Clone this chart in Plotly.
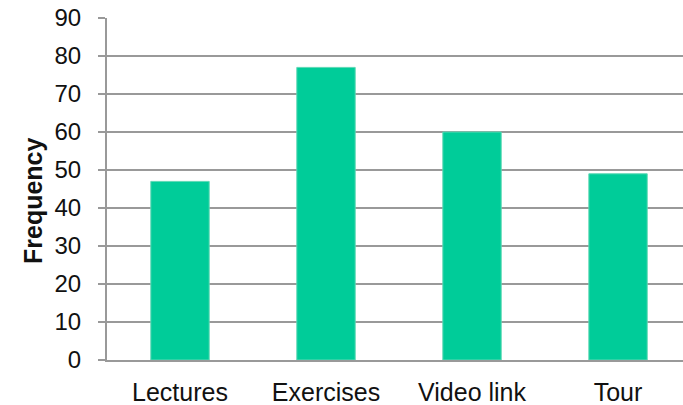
import plotly.graph_objects as go

categories = ["Lectures", "Exercises", "Video link", "Tour"]
frequency = [47, 77, 60, 49]
y_ticks = [0, 10, 20, 30, 40, 50, 60, 70, 80, 90]

fig = go.Figure()
fig.add_trace(go.Bar(
    x=categories, y=frequency,
    marker=dict(color="#00CC99", line=dict(color="#5fd8b5", width=1)),
))

FONT = "Liberation Sans, Arial"
fig.update_layout(
    width=683, height=405,
    margin=dict(l=107, r=0, t=18, b=45),
    paper_bgcolor="white", plot_bgcolor="white",
    bargap=0.6,
    showlegend=False,
    font=dict(family=FONT, size=24, color="#111111"),
    annotations=[dict(
        text="<b>Frequency</b>", textangle=-90,
        xref="paper", yref="paper",
        x=(33 - 107) / 576, y=(360 - 201) / 342,
        xanchor="center", yanchor="middle", showarrow=False,
        font=dict(family=FONT, size=25, color="#111111"),
    )],
)
fig.update_xaxes(
    range=[-0.5, 3.445],
    showline=True, linecolor="#999999", linewidth=2,
    showgrid=False, ticks="", ticklabelstandoff=9,
    tickfont=dict(size=25),
)
fig.update_yaxes(
    range=[0, 90], tickvals=y_ticks,
    showgrid=True, gridcolor="#999999", gridwidth=2,
    showline=True, linecolor="#999999", linewidth=2,
    ticks="outside", ticklen=7, tickcolor="#999999", tickwidth=2,
    zeroline=False, ticklabelstandoff=12,
    tickfont=dict(size=24),
)

fig.write_html("out.html")
